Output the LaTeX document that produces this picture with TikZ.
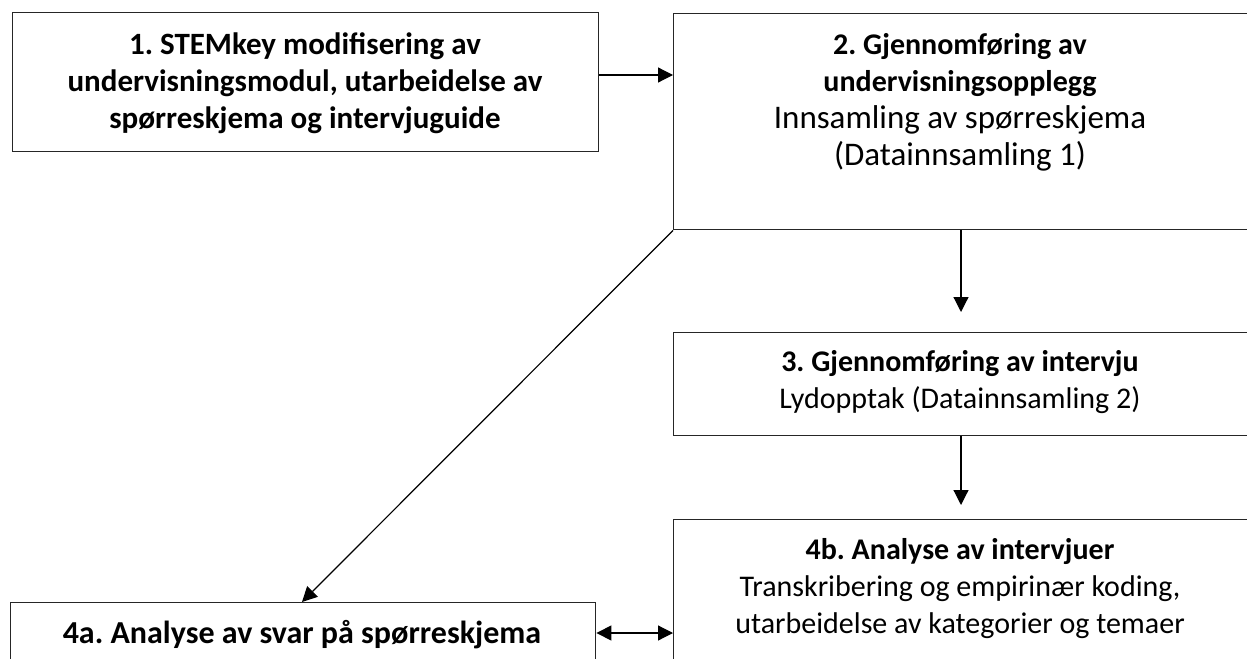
\documentclass[tikz,border=0pt]{standalone}
\usepackage{fontspec}
\setmainfont{Carlito}
\usetikzlibrary{arrows.meta}
\frenchspacing
\tikzset{
  box/.style={draw=black!85, line width=1.4bp, rectangle, anchor=north west, inner sep=0pt},
  label/.style={align=center, font=\fontsize{30bp}{37bp}\selectfont, inner sep=0pt},
  tip/.tip={Triangle[length=15bp,width=15bp]},
  link/.style={draw=black, line width=1.2bp, -tip},
  dlink/.style={draw=black, line width=1.2bp, tip-tip}
}
\newcommand{\bigline}[1]{{\fontsize{33bp}{37bp}\selectfont #1}}
\begin{document}
\begin{tikzpicture}[x=1bp, y=-1bp]
\useasboundingbox (0,0) rectangle (1247,659);
\clip (0,0) rectangle (1247,659);

% process boxes (some run past the page edge)
\node[box, minimum width=586bp, minimum height=139bp] (b1) at (12,12) {};
\node[box, minimum width=620bp, minimum height=216bp] (b2) at (673,13) {};
\node[box, minimum width=620bp, minimum height=103bp] (b3) at (673,332) {};
\node[box, minimum width=620bp, minimum height=200bp] (b4b) at (673,519) {};
\node[box, minimum width=585bp, minimum height=120bp] (b4a) at (10,602) {};

% box texts
\node[label, font=\fontsize{31bp}{37bp}\selectfont] (t1) at (305,83) {\textbf{1. STEMkey modifisering av}\\\textbf{undervisningsmodul, utarbeidelse av}\\\textbf{spørreskjema og intervjuguide}};
\node[label] (t2) at (960,102) {\textbf{2. Gjennomføring av}\\\textbf{undervisningsopplegg}\\\bigline{Innsamling av spørreskjema}\\\bigline{(Datainnsamling 1)}};
\node[label] (t3) at (960,382) {\textbf{3. Gjennomføring av intervju}\\Lydopptak (Datainnsamling 2)};
\node[label] (t4b) at (960,589) {\textbf{4b. Analyse av intervjuer}\\Transkribering og empirinær koding,\\utarbeidelse av kategorier og temaer};
\node[label, font=\fontsize{32bp}{37bp}\selectfont] (t4a) at (302,635) {\textbf{4a. Analyse av svar på spørreskjema}};

% connectors
\coordinate (c23) at (961,312);
\coordinate (c34) at (961,505);
\draw[link] (b1.east |- 0,75) -- (b2.west |- 0,75);
\draw[link] (b2.south -| 961,0) -- (c23);
\draw[link] (b3.south -| 961,0) -- (c34);
\draw[link] (b2.south west) -- (b4a.north -| 302,0);
\draw[dlink] (b4a.east |- 0,633) -- (b4b.west |- 0,633);
\end{tikzpicture}
\end{document}
